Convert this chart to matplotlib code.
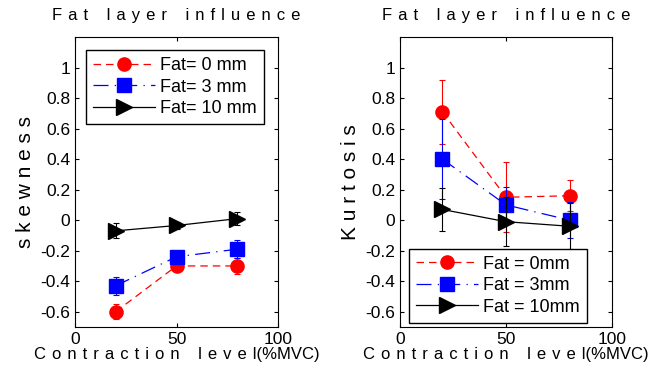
import numpy as np
import matplotlib
matplotlib.use("Agg")
import matplotlib.pyplot as plt

plt.rcParams["font.family"] = ["Liberation Sans", "DejaVu Sans"]

# contraction levels (%MVC)
levels = [20, 50, 80]

# skewness (left panel)
skew_fat0 = [-0.60, -0.30, -0.30]
skew_fat0_err = [0.05, 0.03, 0.05]
skew_fat3 = [-0.43, -0.24, -0.19]
skew_fat3_err = [0.06, 0.04, 0.06]
skew_fat10 = [-0.07, -0.035, 0.01]
skew_fat10_err = [0.05, 0.02, 0.045]

# kurtosis (right panel)
kurt_fat0 = [0.71, 0.15, 0.16]
kurt_fat0_err = [0.21, 0.23, 0.10]
kurt_fat3 = [0.40, 0.10, 0.00]
kurt_fat3_err = [0.26, 0.12, 0.12]
kurt_fat10 = [0.07, -0.01, -0.04]
kurt_fat10_err = [0.14, 0.16, 0.15]

left_labels = ["Fat= 0 mm", "Fat= 3 mm", "Fat= 10 mm"]
right_labels = ["Fat = 0mm", "Fat = 3mm", "Fat = 10mm"]

GAP = " \u200a"


def spaced(s, gap=GAP):
    # MATLAB-style wide letter spacing
    return gap.join(s)


def panel(ax, series, labels, ylabel, legend_loc, anchor):
    styles = [
        dict(color="red", marker="o", ls=(0, (6, 4)), ms=9.5),
        dict(color="blue", marker="s", ls=(0, (12, 5, 1, 5)), ms=9.5),
        dict(color="black", marker=">", ls="-", ms=11),
    ]
    handles = []
    for (y, e), lab, st in zip(series, labels, styles):
        ax.errorbar(levels, y, yerr=e, fmt="none", ecolor=st["color"],
                    elinewidth=0.8, capsize=2, capthick=0.8)
        h, = ax.plot(levels, y, color=st["color"], ls=st["ls"], lw=0.9,
                     marker=st["marker"], ms=st["ms"], mfc=st["color"],
                     mec=st["color"], label=lab)
        handles.append(h)
    ax.set_xlim(0, 100)
    ax.set_ylim(-0.7, 1.2)
    ax.set_xticks([0, 50, 100])
    ax.set_yticks([-0.6, -0.4, -0.2, 0, 0.2, 0.4, 0.6, 0.8, 1])
    ax.set_yticklabels(["-0.6", "-0.4", "-0.2", "0", "0.2", "0.4", "0.6", "0.8", "1"])
    ax.tick_params(direction="in", top=True, right=True, labelsize=12.5, length=3)
    word = "    "
    ax.set_title(spaced("Fat") + word + spaced("layer") + word + spaced("influence"),
                 fontsize=12, pad=12)
    ax.set_xlabel(spaced("Contraction") + word + spaced("level") + "(%MVC)",
                  fontsize=12, labelpad=0)
    ax.set_ylabel(spaced(ylabel, " "), fontsize=15, labelpad=4)
    leg = ax.legend(handles=handles, loc=legend_loc, bbox_to_anchor=anchor,
                    fontsize=13, fancybox=False, framealpha=1, edgecolor="black",
                    handlelength=3.4, borderaxespad=0, labelspacing=0.25,
                    handletextpad=0.3)
    leg.get_frame().set_linewidth(1.0)


fig = plt.figure(figsize=(6.5, 3.7), dpi=100)
ax1 = fig.add_axes([75 / 650, 1 - 327 / 370, 203 / 650, 290 / 370])
ax2 = fig.add_axes([400 / 650, 1 - 327 / 370, 212 / 650, 290 / 370])

panel(ax1, [(skew_fat0, skew_fat0_err), (skew_fat3, skew_fat3_err),
            (skew_fat10, skew_fat10_err)], left_labels, "skewness",
      "upper left", (11 / 203, 1 - 13 / 290))
panel(ax2, [(kurt_fat0, kurt_fat0_err), (kurt_fat3, kurt_fat3_err),
            (kurt_fat10, kurt_fat10_err)], right_labels, "Kurtosis",
      "lower left", (9 / 212, 4 / 290))

fig.savefig("out.png", dpi=100)
